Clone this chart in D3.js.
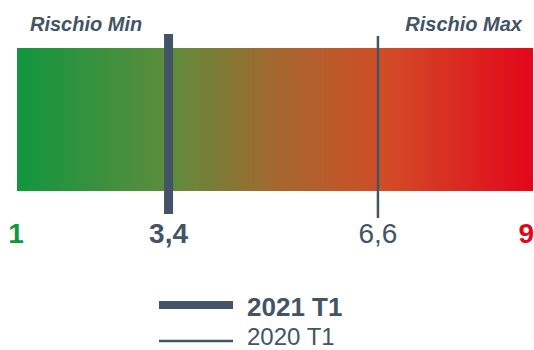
<!DOCTYPE html>
<html>
<head>
<meta charset="utf-8">
<script src="https://cdn.jsdelivr.net/npm/d3@7"></script>
<style>
  html, body { margin: 0; padding: 0; background: #fff; }
  svg { display: block; font-family: "Liberation Sans", Arial, sans-serif; }
</style>
</head>
<body>
<svg id="chart" width="534" height="350"></svg>
<script>
// ---- data ----
const scaleDomain = [1, 9];
const scaleEndLabels = ["1", "9"];
const riskLabels = ["Rischio Min", "Rischio Max"];
const seriesNames = ["2021 T1", "2020 T1"];
const seriesValues = [3.4, 6.6];
const seriesLabels = ["3,4", "6,6"];

// ---- styles / layout ----
const dark = "#435466";
const green = "#12963F";
const red = "#E3061A";
const barLeft = 17, barRight = 533, barTop = 48, barBottom = 191;
const gradStops = [
  { o: 0, c: "#12963F" },
  { o: 0.3, c: "#5E8C3C" },
  { o: 0.5, c: "#A3682F" },
  { o: 0.72, c: "#D24B27" },
  { o: 1, c: "#E3061A" }
];

const svg = d3.select("#chart");
const x = d3.scaleLinear().domain(scaleDomain).range([11.5, 535]);

const defs = svg.append("defs");
const lg = defs.append("linearGradient").attr("id", "riskGrad")
  .attr("x1", "0%").attr("x2", "100%").attr("y1", "0%").attr("y2", "0%");
lg.selectAll("stop").data(gradStops).join("stop")
  .attr("offset", d => d.o).attr("stop-color", d => d.c);

// bar
svg.append("rect")
  .attr("x", barLeft)
  .attr("y", barTop)
  .attr("width", barRight - barLeft)
  .attr("height", barBottom - barTop)
  .attr("fill", "url(#riskGrad)");

// top labels
svg.append("text").attr("x", 30).attr("y", 31)
  .attr("font-size", 20).attr("font-weight", "bold").attr("font-style", "italic")
  .attr("fill", dark).text(riskLabels[0]);
svg.append("text").attr("x", 522).attr("y", 31).attr("text-anchor", "end")
  .attr("font-size", 20).attr("font-weight", "bold").attr("font-style", "italic")
  .attr("fill", dark).text(riskLabels[1]);

// markers
const markerStyle = [
  { w: 9, y1: 34, y2: 214, weight: "bold" },
  { w: 2.5, y1: 36, y2: 218, weight: "normal" }
];
svg.selectAll("line.marker").data(seriesValues).join("line")
  .attr("class", "marker")
  .attr("x1", d => x(d)).attr("x2", d => x(d))
  .attr("y1", (d, i) => markerStyle[i].y1)
  .attr("y2", (d, i) => markerStyle[i].y2)
  .attr("stroke", dark)
  .attr("stroke-width", (d, i) => markerStyle[i].w);

// marker value labels
svg.selectAll("text.val").data(seriesValues).join("text")
  .attr("class", "val")
  .attr("x", d => x(d))
  .attr("y", 243)
  .attr("text-anchor", "middle")
  .attr("font-size", 28)
  .attr("font-weight", (d, i) => markerStyle[i].weight)
  .attr("fill", dark)
  .text((d, i) => seriesLabels[i]);

// scale end labels
svg.append("text").attr("x", 16).attr("y", 243)
  .attr("text-anchor", "middle").attr("font-size", 28).attr("font-weight", "bold")
  .attr("fill", green).text(scaleEndLabels[0]);
svg.append("text").attr("x", 534).attr("y", 243)
  .attr("text-anchor", "end").attr("font-size", 28).attr("font-weight", "bold")
  .attr("fill", red).text(scaleEndLabels[1]);

// legend
const legendRows = [
  { y: 305, ty: 316, fs: 26 },
  { y: 341, ty: 345, fs: 24 }
];
const lgG = svg.append("g");
lgG.selectAll("line").data(seriesNames).join("line")
  .attr("x1", 159).attr("x2", 233)
  .attr("y1", (d, i) => legendRows[i].y).attr("y2", (d, i) => legendRows[i].y)
  .attr("stroke", dark)
  .attr("stroke-width", (d, i) => i === 0 ? 8 : 2.5);
lgG.selectAll("text").data(seriesNames).join("text")
  .attr("x", 247)
  .attr("y", (d, i) => legendRows[i].ty)
  .attr("font-size", (d, i) => legendRows[i].fs)
  .attr("font-weight", (d, i) => markerStyle[i].weight)
  .attr("fill", dark)
  .text(d => d);
</script>
</body>
</html>
